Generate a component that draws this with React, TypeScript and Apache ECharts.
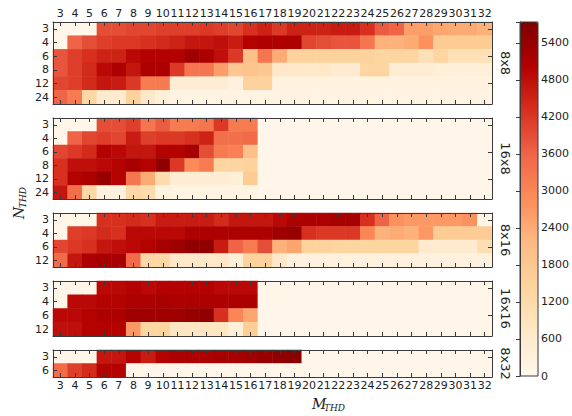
import React, { useEffect, useRef } from 'react';
import * as echarts from 'echarts';

const mLabels = ['3','4','5','6','7','8','9','10','11','12','13','14','15','16','17','18','19','20','21','22','23','24','25','26','27','28','29','30','31','32'];
const nRows6 = ['3', '4', '6', '8', '12', '24'];
const nRows4 = ['3', '4', '6', '12'];
const nRows2 = ['3', '6'];
const panelNames = ['8x8', '16x8', '8x16', '16x16', '8x32'];
const colorbarMax = 5740;
const colorbarStep = 600;

// panel 8x8 (rows N = 3,4,6,8,12,24 ; columns M = 3..32)
const v8x8 = [
  [60,60,60,3900,3900,4000,4000,4100,4100,4100,4200,4100,4000,4300,4500,4200,4500,4500,4500,4600,4600,4300,3700,3600,2600,2600,2500,2400,2400,2300],
  [60,3600,3900,4100,4200,4200,4300,4400,4500,4700,4700,4800,4600,5000,5100,5100,5100,4000,3900,3800,3800,3300,2300,2300,2400,2800,1700,1700,1700,1700],
  [3800,4100,4300,4500,4500,4900,5000,5000,5000,5300,5100,4800,4200,2000,3300,2400,1500,1500,1500,1500,1500,1500,1400,1400,1400,1000,1400,1000,1000,1000],
  [3800,4100,4400,4900,5100,4700,5100,5100,4200,3300,3300,2600,1800,1900,1800,700,700,700,700,600,600,1400,1400,500,500,500,400,400,400,400],
  [4000,4100,4400,4700,4600,4200,3200,3200,500,500,500,500,300,1500,1500,250,250,250,250,250,250,250,250,250,250,250,250,250,250,250],
  [3600,3200,1300,600,600,1500,700,400,200,200,200,200,200,200,200,200,200,200,200,200,200,200,200,200,200,200,200,200,200,200],
];

// panel 16x8
const v16x8 = [
  [80,80,80,3900,3900,4100,3300,3700,3200,3200,3300,4200,3200,3200,80,80,80,80,80,80,80,80,80,80,80,80,80,80,80,80],
  [80,3600,4000,4100,4000,4600,4100,4200,4200,4300,4500,3400,3400,3500,80,80,80,80,80,80,80,80,80,80,80,80,80,80,80,80],
  [4000,4200,4400,5000,4900,4700,4700,5000,5000,5200,3900,3200,3100,2000,80,80,80,80,80,80,80,80,80,80,80,80,80,80,80,80],
  [4300,4800,4800,4900,5000,5200,5000,5500,4200,2900,3200,1400,1400,1500,80,80,80,80,80,80,80,80,80,80,80,80,80,80,80,80],
  [4300,5000,5100,5400,5000,3300,2400,1200,500,500,500,500,400,1700,80,80,80,80,80,80,80,80,80,80,80,80,80,80,80,80],
  [4700,3400,1300,300,300,1300,1200,250,200,200,200,200,200,200,80,80,80,80,80,80,80,80,80,80,80,80,80,80,80,80],
];

// panel 8x16 (rows N = 3,4,6,12)
const v8x16 = [
  [60,60,60,4300,4300,4400,4300,4600,4600,4600,4600,4400,4700,4700,4700,4900,5100,5100,5100,5200,5200,4300,3600,2800,2700,2700,2700,2700,2800,100],
  [60,4100,4200,4400,4300,4900,4900,4900,4900,5100,5100,5100,5100,5100,5100,5300,5400,4300,4200,4200,4200,3000,2300,2400,2300,2700,1700,1700,1700,1700],
  [4000,4200,4300,4700,4800,4900,5000,5200,5300,5500,5500,4600,3600,3200,3900,2300,2500,1500,1500,1400,1400,1400,1400,1400,1400,600,600,600,600,1100],
  [3500,4700,5100,5200,5200,3500,1300,1300,700,700,700,700,400,1500,1500,700,300,300,300,300,300,300,300,300,300,300,300,300,300,300],
];

// panel 16x16
const v16x16 = [
  [80,80,80,4900,4900,5000,4900,5000,5000,5000,5000,4900,4900,4900,80,80,80,80,80,80,80,80,80,80,80,80,80,80,80,80],
  [80,4900,4900,5000,5000,5100,5100,5200,5100,5100,5100,5100,5100,5100,80,80,80,80,80,80,80,80,80,80,80,80,80,80,80,80],
  [4900,4900,5000,5100,5100,5300,5300,5300,5300,5400,5500,4300,3000,2500,80,80,80,80,80,80,80,80,80,80,80,80,80,80,80,80],
  [4800,4800,5000,5000,5000,2700,1400,1400,800,800,800,800,400,1600,80,80,80,80,80,80,80,80,80,80,80,80,80,80,80,80],
];

// panel 8x32 (rows N = 3,6)
const v8x32 = [
  [80,80,80,4700,4700,5000,4600,5000,5100,5100,5100,5200,5200,5300,5400,5500,5600,80,80,80,80,80,80,80,80,80,80,80,80,80],
  [3500,4100,4400,5000,5000,80,80,80,80,80,80,80,80,80,80,80,80,80,80,80,80,80,80,80,80,80,80,80,80,80],
];

const orRd = ['#fff7ec', '#fee8c8', '#fdd49e', '#fdbb84', '#fc8d59', '#ef6548', '#d7301f', '#b30000', '#7f0000'];

const panels = [
  { name: panelNames[0], rows: nRows6, values: v8x8, top: 22, height: 82 },
  { name: panelNames[1], rows: nRows6, values: v16x8, top: 118, height: 81 },
  { name: panelNames[2], rows: nRows4, values: v8x16, top: 213, height: 54 },
  { name: panelNames[3], rows: nRows4, values: v16x16, top: 281, height: 55 },
  { name: panelNames[4], rows: nRows2, values: v8x32, top: 350, height: 27 },
];

const frame = '#3a3a3a';
const textColor = '#222';
const font = 'DejaVu Sans';

function buildOption() {
  const grids: any[] = panels.map((p) => ({ left: 53, top: p.top, width: 439, height: p.height }));
  grids.push({ left: 520, top: 22, width: 18, height: 354 });
  const xAxes: any[] = [];
  const yAxes: any[] = [];
  const series: any[] = [];
  const last = panels.length - 1;
  panels.forEach((p, i) => {
    const common = {
      gridIndex: i,
      type: 'category',
      z: 5,
      axisLine: { show: true, lineStyle: { color: frame, width: 1 } },
      axisTick: { show: true, inside: true, alignWithLabel: true, length: 4, lineStyle: { color: frame, width: 1 } },
      splitLine: { show: false },
      splitArea: { show: false },
    };
    const xLabel = (show: boolean) => ({ show, interval: 0, fontSize: 11, color: textColor, fontFamily: font, margin: 3, hideOverlap: false });
    xAxes.push({ ...common, data: mLabels, position: 'bottom', axisLabel: xLabel(i === last) });
    xAxes.push({ ...common, data: mLabels, position: 'top', axisLabel: xLabel(i === 0) });
    yAxes.push({ ...common, data: p.rows, inverse: true, position: 'left', axisLabel: { show: true, interval: 0, fontSize: 11, color: textColor, fontFamily: font, margin: 4 } });
    yAxes.push({
      ...common, data: p.rows, inverse: true, position: 'right', axisLabel: { show: false },
      name: p.name, nameLocation: 'middle', nameRotate: -90, nameGap: 7,
      nameTextStyle: { fontSize: 13, color: textColor, fontFamily: font },
    });
    const data: number[][] = [];
    p.values.forEach((row, yi) => row.forEach((v, xi) => data.push([xi, yi, v])));
    series.push({ type: 'heatmap', xAxisIndex: 2 * i, yAxisIndex: 2 * i, data, emphasis: { disabled: true }, itemStyle: { borderWidth: 0 } });
  });
  xAxes.push({ gridIndex: panels.length, type: 'value', show: false, min: 0, max: 1 });
  yAxes.push({
    gridIndex: panels.length, type: 'value', min: 0, max: colorbarMax, interval: colorbarStep, position: 'right', z: 5,
    axisLine: { show: true, lineStyle: { color: frame } },
    axisTick: { show: true, inside: true, length: 4, lineStyle: { color: frame } },
    axisLabel: { fontSize: 11, color: textColor, fontFamily: font, margin: 3, formatter: (v: number) => (v % colorbarStep === 0 ? String(v) : '') },
    splitLine: { show: false },
  });

  return {
    animation: false,
    backgroundColor: '#ffffff',
    grid: grids,
    xAxis: xAxes,
    yAxis: yAxes,
    visualMap: {
      type: 'continuous', min: 0, max: colorbarMax, inRange: { color: orRd },
      seriesIndex: panels.map((_, i) => i), orient: 'vertical', left: 520, top: 22,
      itemWidth: 18, itemHeight: 354, calculable: false, padding: 0, show: true,
      hoverLink: false,
    },
    series,
    graphic: [
      { type: 'rect', z: 100, shape: { x: 520, y: 22, width: 18, height: 354 }, style: { fill: 'none', stroke: frame, lineWidth: 1 } },
      {
        type: 'group', x: 19, y: 205, rotation: Math.PI / 2, children: [
          { type: 'text', x: -14, y: 0, style: { text: 'N', fontSize: 14, fontStyle: 'italic', fontFamily: 'DejaVu Serif', fill: textColor, verticalAlign: 'middle', align: 'left' } },
          { type: 'text', x: -3, y: 4, style: { text: 'THD', fontSize: 9, fontStyle: 'italic', fontFamily: 'DejaVu Serif', fill: textColor, verticalAlign: 'middle', align: 'left' } },
        ],
      },
      {
        type: 'group', x: 312, y: 404, children: [
          { type: 'text', x: 0, y: 0, style: { text: 'M', fontSize: 14, fontStyle: 'italic', fontFamily: 'DejaVu Serif', fill: textColor, verticalAlign: 'middle', align: 'left' } },
          { type: 'text', x: 12, y: 4, style: { text: 'THD', fontSize: 9, fontStyle: 'italic', fontFamily: 'DejaVu Serif', fill: textColor, verticalAlign: 'middle', align: 'left' } },
        ],
      },
    ],
  };
}

export default function App() {
  const ref = useRef<HTMLDivElement>(null);
  useEffect(() => {
    const chart = echarts.init(ref.current!, null, { renderer: 'svg' });
    chart.setOption(buildOption() as any);
    return () => chart.dispose();
  }, []);
  return <div ref={ref} style={{ position: 'absolute', left: 0, top: 0, width: 572, height: 416, background: '#fff' }} />;
}
